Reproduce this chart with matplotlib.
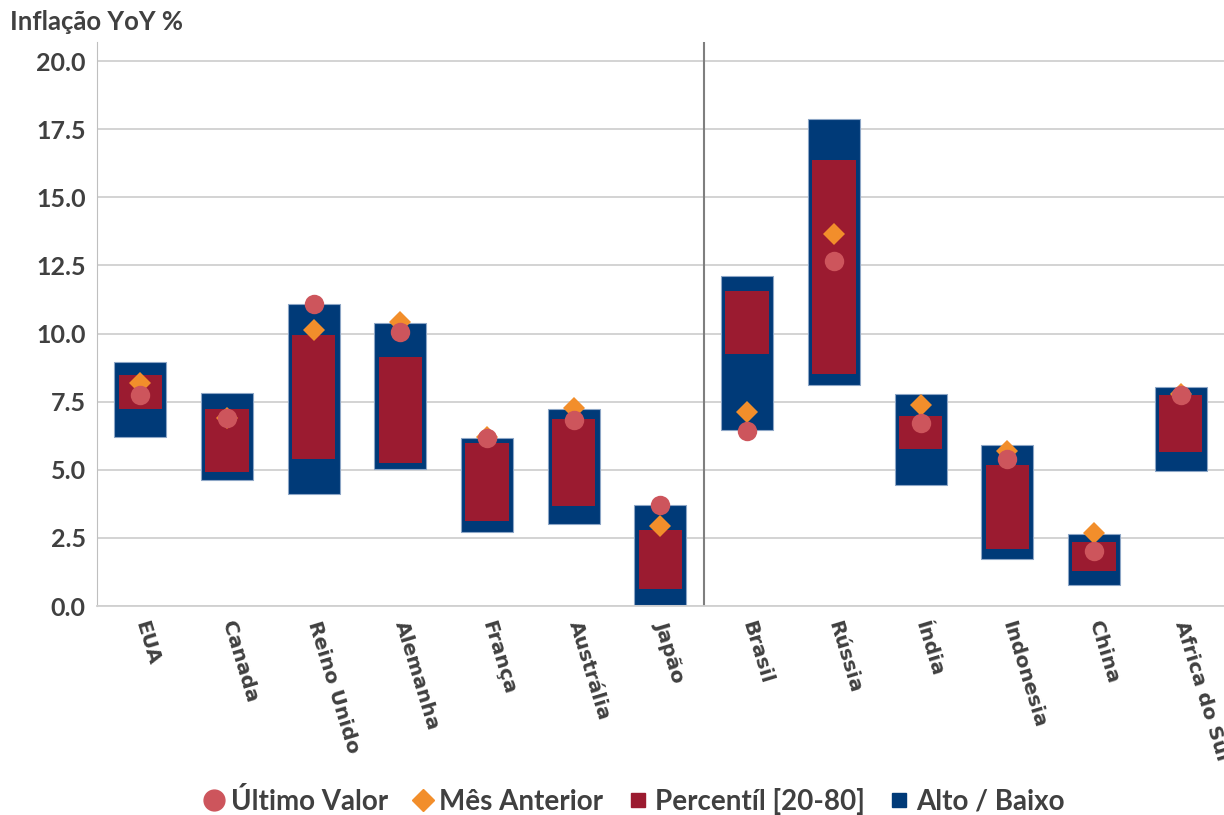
import matplotlib.pyplot as plt
from matplotlib.lines import Line2D
import numpy as np

# Inflation ranges per country
countries = ['EUA', 'Canada', 'Reino Unido', 'Alemanha', 'França', 'Austrália', 'Japão',
             'Brasil', 'Rússia', 'Índia', 'Indonesia', 'China', 'Africa do Sul']
high = [8.95, 7.82, 11.08, 10.39, 6.17, 7.23, 3.71, 12.1, 17.87, 7.78, 5.91, 2.64, 8.04]
low = [6.2, 4.62, 4.11, 5.03, 2.72, 3.01, 0.04, 6.46, 8.11, 4.44, 1.72, 0.77, 4.95]
p80 = [8.47, 7.23, 9.94, 9.14, 5.98, 6.86, 2.79, 11.56, 16.37, 6.97, 5.17, 2.35, 7.74]
p20 = [7.23, 4.92, 5.39, 5.25, 3.12, 3.67, 0.62, 9.25, 8.51, 5.76, 2.09, 1.28, 5.65]
last = [7.74, 6.9, 11.08, 10.06, 6.17, 6.83, 3.71, 6.42, 12.66, 6.72, 5.39, 2.02, 7.74]
prev = [8.2, 6.9, 10.13, 10.42, 6.2, 7.27, 2.94, 7.12, 13.65, 7.38, 5.69, 2.68, 7.78]

blue = '#003A78'
red = '#9B1B30'
pink = '#CD555C'
orange = '#F28E2B'
txt = '#404040'

plt.rcParams['font.family'] = ['Lato', 'DejaVu Sans']

fig = plt.figure(figsize=(12.24, 8.15), dpi=100)
ax = fig.add_axes([0.0792, 0.2564, 0.9208, 0.6921])

x = np.arange(len(countries))
hi = np.array(high)
lo = np.array(low)
ax.bar(x, hi - lo, bottom=lo, width=0.6, color=blue, edgecolor='#8DA6C6',
       linewidth=0.8, zorder=2)
ax.bar(x, np.array(p80) - np.array(p20), bottom=p20, width=0.5, color=red, zorder=3)
ax.plot(x, prev, 'D', color=orange, markersize=11, markeredgewidth=0, zorder=4)
ax.plot(x, last, 'o', color=pink, markersize=14, markeredgewidth=0, zorder=5)

# separator between developed and emerging
ax.axvline(6.5, color='#7F7F7F', lw=1.5, zorder=1)

ax.set_xlim(-0.5, 12.5)
ax.set_ylim(0, 20.7)
ax.set_yticks(np.arange(0, 20.01, 2.5))
ax.set_yticklabels([f'{v:.1f}' for v in np.arange(0, 20.01, 2.5)],
                   fontsize=18, fontweight='bold', color=txt)
ax.yaxis.grid(True, color='#D0D0D0', lw=1.3, zorder=0)
ax.set_axisbelow(True)
ax.tick_params(axis='both', length=0, pad=8)

ax.set_xticks(x)
ax.set_xticklabels(countries, rotation=-73, ha='left', va='center',
                   rotation_mode='anchor', fontsize=14.5, fontweight='bold',
                   color=txt, family='DejaVu Sans')
ax.tick_params(axis='x', pad=11)

for s in ['top', 'right']:
    ax.spines[s].set_visible(False)
ax.spines['left'].set_color('#BFBFBF')
ax.spines['bottom'].set_color('#D0D0D0')
ax.spines['bottom'].set_linewidth(1.3)

fig.text(0.008, 0.973, 'Inflação YoY %', fontsize=18.5, fontweight='bold',
         color=txt, va='center', ha='left')

handles = [
    Line2D([], [], marker='o', ls='', color=pink, markersize=15),
    Line2D([], [], marker='D', ls='', color=orange, markersize=11),
    Line2D([], [], marker='s', ls='', color=red, markersize=10),
    Line2D([], [], marker='s', ls='', color=blue, markersize=10),
]
labels = ['Último Valor', 'Mês Anterior', 'Percentíl [20-80]', 'Alto / Baixo']
leg = fig.legend(handles, labels, loc='center', bbox_to_anchor=(0.516, 0.017),
                 ncol=4, frameon=False, handletextpad=0.05, columnspacing=0.7,
                 handlelength=1.1, prop={'size': 20, 'weight': 'bold'})
for t in leg.get_texts():
    t.set_color(txt)

fig.savefig('out.png', dpi=100)
